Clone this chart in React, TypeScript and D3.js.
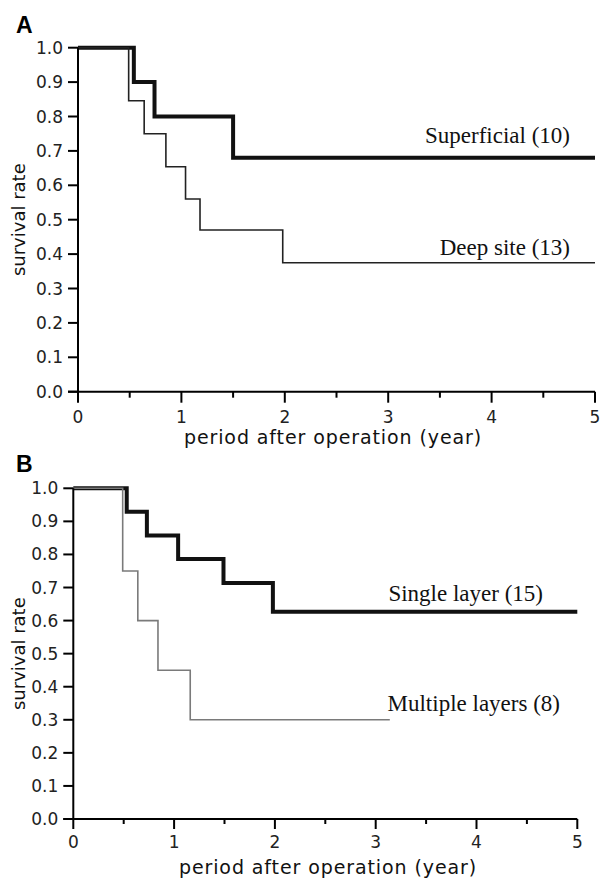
import React from "react";
import * as d3 from "d3";

// survival steps (time in years, survival rate)
const superficialTime = [0, 0.54, 0.74, 1.5, 5];
const superficialRate = [1, 0.9, 0.8, 0.68, 0.68];
const deepTime = [0, 0.49, 0.64, 0.85, 1.04, 1.18, 1.98, 5];
const deepRate = [1, 0.846, 0.75, 0.654, 0.56, 0.47, 0.375, 0.375];
const singleTime = [0, 0.53, 0.73, 1.04, 1.49, 1.98, 5];
const singleRate = [1, 0.929, 0.857, 0.786, 0.714, 0.627, 0.627];
const multipleTime = [0, 0.49, 0.64, 0.84, 1.16, 3.14];
const multipleRate = [1, 0.75, 0.6, 0.45, 0.3, 0.3];

const yTicks = [0, 0.1, 0.2, 0.3, 0.4, 0.5, 0.6, 0.7, 0.8, 0.9, 1.0];
const xMajor = [0, 1, 2, 3, 4, 5];
const xMinor = [0.5, 1.5, 2.5, 3.5, 4.5];

const SANS = "'DejaVu Sans', sans-serif";
const SERIF = "'Liberation Serif', serif";

type Series = {
  name: string;
  time: number[];
  rate: number[];
  thick: boolean;
  color: string;
  labelX: number;
  labelY: number;
};

type PanelCfg = {
  letter: string;
  letterY: number;
  left: number;
  right: number;
  top: number;
  bottom: number;
  majorLen: number;
  minorLen: number;
  tickLabelY: number;
  titleX: number;
  titleY: number;
  series: Series[];
};

const panels: PanelCfg[] = [
  {
    letter: "A", letterY: 33,
    left: 78, right: 595, top: 47.7, bottom: 391.7,
    majorLen: 11, minorLen: 6, tickLabelY: 423, titleX: 333, titleY: 444,
    series: [
      { name: "Superficial (10)", time: superficialTime, rate: superficialRate, thick: true, color: "#111", labelX: 570, labelY: 143 },
      { name: "Deep site (13)", time: deepTime, rate: deepRate, thick: false, color: "#222", labelX: 570, labelY: 255 },
    ],
  },
  {
    letter: "B", letterY: 472,
    left: 73.3, right: 577.3, top: 488.3, bottom: 819,
    majorLen: 10, minorLen: 5, tickLabelY: 848, titleX: 328, titleY: 874,
    series: [
      { name: "Single layer (15)", time: singleTime, rate: singleRate, thick: true, color: "#111", labelX: 543, labelY: 601 },
      { name: "Multiple layers (8)", time: multipleTime, rate: multipleRate, thick: false, color: "#7a7a7a", labelX: 560, labelY: 711 },
    ],
  },
];

function Panel({ cfg }: { cfg: PanelCfg }) {
  const x = d3.scaleLinear().domain([0, 5]).range([cfg.left, cfg.right]);
  const y = d3.scaleLinear().domain([0, 1]).range([cfg.bottom, cfg.top]);
  const line = d3
    .line<[number, number]>()
    .x((d) => x(d[0]))
    .y((d) => y(d[1]))
    .curve(d3.curveStepAfter);
  const midY = (cfg.top + cfg.bottom) / 2;

  return (
    <g>
      <text x={16} y={cfg.letterY} fontFamily="'Liberation Sans', Arial, sans-serif" fontWeight="bold" fontSize={23}>
        {cfg.letter}
      </text>
      {/* curves */}
      {cfg.series.map((s) => (
        <g key={s.name}>
          <path
            d={line(s.time.map((t, i) => [t, s.rate[i]] as [number, number])) || ""}
            fill="none"
            stroke={s.color}
            strokeWidth={s.thick ? 4 : 1.6}
            strokeLinejoin="miter"
          />
          <text x={s.labelX} y={s.labelY} textAnchor="end" fontFamily={SERIF} fontSize={23} fill="#111">
            {s.name}
          </text>
        </g>
      ))}
      {/* y axis */}
      <line x1={x(0)} x2={x(0)} y1={y(0)} y2={y(1)} stroke="#000" strokeWidth={2} />
      {yTicks.map((v) => (
        <g key={"y" + v}>
          <line x1={x(0) - 10} x2={x(0)} y1={y(v)} y2={y(v)} stroke="#000" strokeWidth={2} />
          <text x={x(0) - 15} y={y(v) + 6} textAnchor="end" fontFamily={SANS} fontSize={17} fill="#222">
            {d3.format(".1f")(v)}
          </text>
        </g>
      ))}
      {/* x axis */}
      <line x1={x(0) - 10} x2={x(5)} y1={y(0)} y2={y(0)} stroke="#000" strokeWidth={2} />
      {xMajor.map((v) => (
        <g key={"x" + v}>
          <line x1={x(v)} x2={x(v)} y1={y(0)} y2={y(0) + cfg.majorLen} stroke="#000" strokeWidth={2} />
          <text x={x(v)} y={cfg.tickLabelY} textAnchor="middle" fontFamily={SANS} fontSize={17} fill="#222">
            {v}
          </text>
        </g>
      ))}
      {xMinor.map((v) => (
        <line key={"m" + v} x1={x(v)} x2={x(v)} y1={y(0)} y2={y(0) + cfg.minorLen} stroke="#000" strokeWidth={2} />
      ))}
      <text x={cfg.titleX} y={cfg.titleY} textAnchor="middle" fontFamily={SANS} fontSize={19} letterSpacing={0.9} fill="#111">
        period after operation (year)
      </text>
      <text
        transform={`translate(25,${midY}) rotate(-90)`}
        textAnchor="middle"
        fontFamily={SANS}
        fontSize={18}
        fill="#111"
      >
        survival rate
      </text>
    </g>
  );
}

export default function App() {
  return (
    <svg
      width={604}
      height={879}
      style={{ position: "absolute", left: 0, top: 0, background: "#fff" }}
    >
      <rect width={604} height={879} fill="#fff" />
      {panels.map((p) => (
        <Panel key={p.letter} cfg={p} />
      ))}
    </svg>
  );
}
